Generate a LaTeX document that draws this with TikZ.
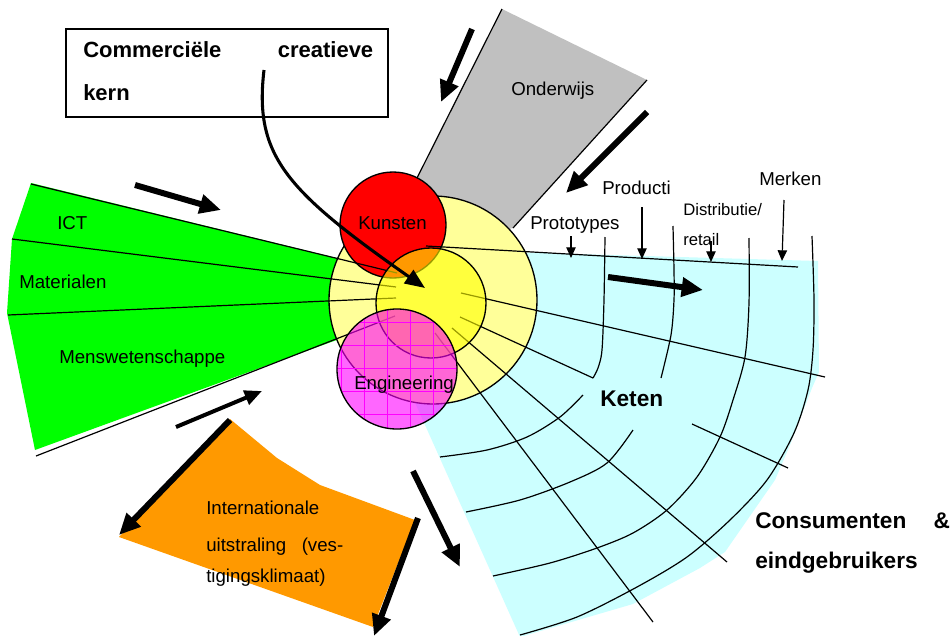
\documentclass[tikz,border=0pt]{standalone}
\usepackage{fontspec}
\setmainfont{Liberation Sans}
\usetikzlibrary{arrows.meta}
\definecolor{cyanbg}{HTML}{CCFFFF}
\definecolor{greenbg}{HTML}{00FF00}
\definecolor{greybg}{HTML}{C0C0C0}
\definecolor{orangebg}{HTML}{FF9900}
\definecolor{lightyel}{HTML}{FFFF99}
\definecolor{pureyel}{HTML}{FFFF00}
\definecolor{purered}{HTML}{FF0000}
\definecolor{puremag}{HTML}{FF00FF}
\begin{document}
\begin{tikzpicture}[x=0.75pt,y=-0.75pt,
  fineline/.style={line width=0.9pt},
  circline/.style={line width=1pt},
  bigarrow/.style={line width=4.5pt,-{Triangle[length=16pt,width=14pt]}},
  midarrow/.style={line width=3pt,-{Triangle[length=13pt,width=11pt]}},
  smallarrow/.style={line width=0.9pt,-{Triangle[length=8pt,width=7pt]}},
  lbl/.style={anchor=base west,inner sep=0pt,font=\fontsize{14}{16}\selectfont},
  smalllbl/.style={anchor=base west,inner sep=0pt,font=\fontsize{12.5}{14}\selectfont},
  boldlbl/.style={anchor=base west,inner sep=0pt,font=\bfseries\fontsize{17}{19}\selectfont},
  boxlbl/.style={anchor=base west,inner sep=0pt,font=\bfseries\fontsize{16.5}{19}\selectfont},
  gridln/.style={puremag,line width=0.4pt}]
\useasboundingbox (0,0) rectangle (951,636);

% --- background regions
\fill[cyanbg] (440,250) -- (818,261) -- (819,372) -- (812,388) -- (790,445) -- (775,480)
  -- (725,552) -- (700,568) -- (633,604) -- (520,637) -- (395,358) -- cycle;
\fill[greenbg] (31,183) -- (12,239) -- (7,313) -- (35,450) -- (345,337) -- (345,260) -- cycle;
\fill[greybg] (502,9) -- (647,80) -- (513,228) -- (430,250) -- (399,214) -- cycle;
\draw[fineline] (502,9) -- (416,180);
\draw[fineline] (647,80) -- (513,228);
\fill[orangebg] (230,419) -- (277,458) -- (320,485) -- (415,520) -- (373,627) -- (119,537) -- cycle;

% --- outer circle and Kunsten
\draw[circline,fill=lightyel] (433,300) circle[radius=78pt];
\draw[circline,fill=purered] (393,225) circle[radius=39.75pt];

% --- lines of the green fan
\draw[fineline] (31,184) -- (397,273);
\draw[fineline] (12,239) -- (396,287);
\draw[fineline] (8,315) -- (396,298);
\draw[fineline] (36,456) -- (395,316);

% --- lines of the cyan fan
\draw[fineline] (426,246) -- (798,267);
\draw[fineline] (461,293) -- (825,377);
\draw[fineline] (460,317) -- (593,378);
\draw[fineline] (452,328) -- (727,562);
\draw[fineline] (435,333) -- (653,622);
\draw[fineline] (692,424) -- (788,468);
\draw[fineline] plot[smooth] coordinates {(605,237) (604,300) (602,350) (598,368) (593,378)};
\draw[fineline] plot[smooth] coordinates {(673,226) (674,270) (674,300) (671,335) (661,378)};
\draw[fineline] plot[smooth] coordinates {(749,238) (749,303) (745,357) (733,400) (720,437)
  (697,477) (667,510) (633,533) (597,548) (550,563) (493,576)};
\draw[fineline] plot[smooth] coordinates {(812,236) (814,300) (813,350) (808,390) (794,433)
  (767,480) (730,520) (687,557) (637,587) (577,617) (520,635)};
\draw[fineline] plot[smooth] coordinates {(583,395) (560,417) (527,437) (487,450) (440,457)};
\draw[fineline] plot[smooth] coordinates {(633,430) (607,463) (570,482) (520,500) (466,512)};

% --- inner core circle
\draw[circline,fill=pureyel,fill opacity=0.6] (431,303) circle[radius=41.25pt];

% --- Engineering circle
\fill[puremag,fill opacity=0.6] (397,369) circle[radius=45pt];
\begin{scope}
  \clip (397,369) circle[radius=45pt];
  \foreach \gx in {341,364,387,410,433,456} \draw[gridln] (\gx,300) -- (\gx,440);
  \foreach \gy in {322,345,368,391,414} \draw[gridln] (330,\gy) -- (470,\gy);
\end{scope}
\draw[circline] (397,369) circle[radius=45pt];

% --- labels
\node[lbl] (onderwijs) at (511,95) {Onderwijs};
\node[lbl] (kunsten) at (358,229) {Kunsten};
\node[lbl] (engineering) at (354,389) {Engineering};
\node[lbl] (ict) at (57,229) {ICT};
\node[lbl] (materialen) at (19,288) {Materialen};
\node[lbl] (mens) at (59,363) {Menswetenschappe};
\node[lbl] (prototypes) at (530,229) {Prototypes};
\node[lbl] (producti) at (602,194) {Producti};
\node[smalllbl] (distributie) at (683,215) {Distributie/};
\node[smalllbl] (retail) at (683,245) {retail};
\node[lbl] (merken) at (759,185) {Merken};
\node[boldlbl] (keten) at (600,406) {Keten};
\node[boldlbl] (consumenten) at (755,528) {\makebox[146pt][s]{Consumenten \&}};
\node[boldlbl] (eind) at (755,568) {eindgebruikers};
\node[lbl] (intl1) at (206,514) {Internationale};
\node[lbl] (intl2) at (206,551) {\makebox[102.75pt][s]{uitstraling (ves-}};
\node[lbl] (intl3) at (206,582) {tigingsklimaat)};

% --- box
\node[draw,line width=1pt,minimum width=241.5pt,minimum height=66pt,inner sep=0pt] (box) at (227,73) {};
\node[boxlbl] (comm) at (83,57) {\makebox[217.5pt][s]{Commerciële creatieve}};
\node[boxlbl] (kern) at (83,100) {kern};

% --- curved arrow from box to core
\coordinate (cstart) at (264,70);
\coordinate (core) at (425,288);
\draw[line width=2.3pt,-{Triangle[length=15pt,width=12pt]}] (cstart) .. controls (254,155) and (285,190) .. (core);

% --- thick arrows
\draw[bigarrow] (135,185) -- (221,210);
\draw[bigarrow] (472,29) -- (441,102);
\draw[bigarrow] (647,112) -- (566,193);
\draw[midarrow] (176,427) -- (262,391);
\draw[bigarrow] (230,420) -- (119,535);
\draw[bigarrow] (418,518) -- (374,636);
\draw[bigarrow] (413,471) -- (460,567);
\draw[bigarrow] (608,277) -- (703,290);

% --- small arrows
\draw[smallarrow] (571,236) -- (571,258);
\draw[smallarrow] (642,207) -- (642,259);
\draw[smallarrow] (711,241) -- (711,262);
\draw[smallarrow] (784,200) -- (782,261);
\end{tikzpicture}
\end{document}
